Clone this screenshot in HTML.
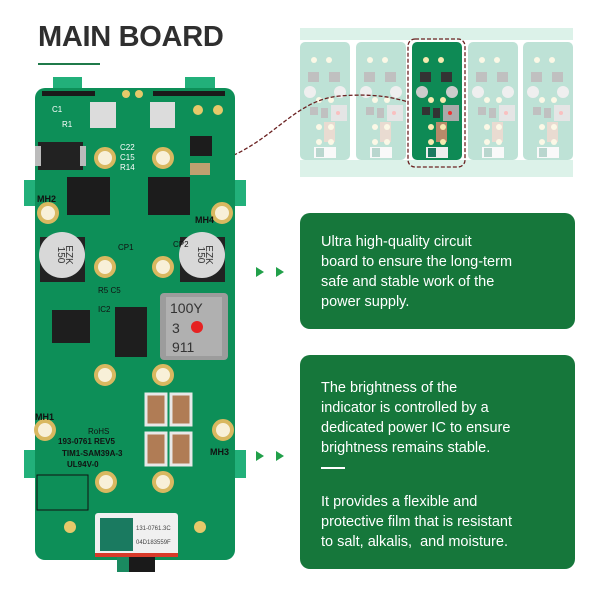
<!DOCTYPE html>
<html><head><meta charset="utf-8"><style>
html,body{margin:0;padding:0;background:#fff;width:600px;height:600px;overflow:hidden}
.t{position:absolute;left:38px;top:21px;font:bold 29px "Liberation Sans",sans-serif;color:#2f2f2f;letter-spacing:-0.3px}
.box{position:absolute;left:300px;width:275px;background:#16773b;border-radius:10px;color:#fff;font:14.5px/20px "Liberation Sans",sans-serif;box-sizing:border-box;padding-left:21px}
</style></head><body>
<svg width="600" height="600" style="position:absolute;left:0;top:0">
<defs>
<symbol id="mb" viewBox="0 0 50 118">
<rect x="0" y="0" width="50" height="118" rx="5" fill="currentColor"/>
<rect x="8" y="30" width="11" height="10" fill="#333"/><rect x="29" y="30" width="11" height="10" fill="#333"/>
<circle cx="10" cy="50" r="6" fill="#ccc"/><circle cx="40" cy="50" r="6" fill="#ccc"/>
<rect x="31" y="63" width="16" height="16" fill="#aaa"/><circle cx="38" cy="71" r="2" fill="#e33"/>
<rect x="10" y="65" width="8" height="8" fill="#333"/><rect x="21" y="66" width="7" height="10" fill="#333"/>
<rect x="24" y="80" width="11" height="20" fill="#b98a6a"/>
<rect x="14" y="105" width="22" height="11" fill="#eee"/><rect x="16" y="106" width="8" height="9" fill="#1a7a60"/>
<g fill="#f5e9b0"><circle cx="14" cy="18" r="3"/><circle cx="29" cy="18" r="3"/><circle cx="19" cy="58" r="3"/><circle cx="31" cy="58" r="3"/><circle cx="19" cy="85" r="3"/><circle cx="31" cy="85" r="3"/><circle cx="19" cy="100" r="3"/><circle cx="31" cy="100" r="3"/></g>
</symbol>
</defs>
<rect x="38" y="63" width="62" height="2" fill="#1f7a4a"/>
<g opacity="0.3">
<rect x="300" y="28" width="273" height="149" fill="#8fd6b8"/>
<rect x="300" y="40" width="273" height="120" fill="#fff"/>
<g color="#2aa07a">
<use href="#mb" x="300" y="42" width="50" height="118"/>
<use href="#mb" x="356" y="42" width="50" height="118"/>
<use href="#mb" x="468" y="42" width="50" height="118"/>
<use href="#mb" x="523" y="42" width="50" height="118"/>
</g></g>
<g color="#0e8a55"><use href="#mb" x="412" y="42" width="50" height="118"/></g>
<rect x="408" y="39" width="57" height="128" rx="7" fill="none" stroke="#6b2222" stroke-width="1.3" stroke-dasharray="4 2"/>
<path d="M205 165 C270 150,290 100,340 96 C375 93,395 98,408 102" fill="none" stroke="#6b2222" stroke-width="1.3" stroke-dasharray="4 2"/>
<g fill="#21a04a"><path d="M256 267 L264 272 L256 277Z"/><path d="M276 267 L284 272 L276 277Z"/>
<path d="M256 451 L264 456 L256 461Z"/><path d="M276 451 L284 456 L276 461Z"/></g>
<g fill="#22b07a"><rect x="53" y="77" width="29" height="13"/><rect x="185" y="77" width="30" height="13"/>
<rect x="24" y="180" width="12" height="26"/><rect x="234" y="180" width="12" height="26"/>
<rect x="24" y="450" width="12" height="28"/><rect x="234" y="450" width="12" height="28"/></g>
<rect x="35" y="88" width="200" height="472" rx="10" fill="#0d8f58"/>
<rect x="42" y="91" width="53" height="5" fill="#1a1a1a"/><rect x="153" y="91" width="72" height="5" fill="#1a1a1a"/>
<rect x="90" y="102" width="26" height="26" fill="#dcdcdc"/><rect x="150" y="102" width="25" height="26" fill="#dcdcdc"/>
<g fill="#e6c96a"><circle cx="126" cy="94" r="4"/><circle cx="139" cy="94" r="4"/><circle cx="198" cy="110" r="5"/><circle cx="218" cy="110" r="5"/></g>
<rect x="38" y="142" width="45" height="28" fill="#222"/><rect x="35" y="146" width="6" height="20" fill="#bbb"/><rect x="80" y="146" width="6" height="20" fill="#bbb"/>
<rect x="67" y="177" width="43" height="38" fill="#1c1c1c"/><rect x="148" y="177" width="42" height="38" fill="#1c1c1c"/>
<rect x="190" y="136" width="22" height="20" fill="#1c1c1c"/><rect x="190" y="163" width="20" height="12" fill="#bfa070"/>
<rect x="40" y="237" width="45" height="45" fill="#222"/><circle cx="62" cy="255" r="23" fill="#d8d8d8"/>
<rect x="180" y="237" width="45" height="45" fill="#222"/><circle cx="202" cy="255" r="23" fill="#d8d8d8"/>
<g font-family="Liberation Sans" font-size="10" fill="#333" text-anchor="middle">
<text transform="translate(58,255) rotate(90)">150</text><text transform="translate(66,255) rotate(90)">EZK</text>
<text transform="translate(198,255) rotate(90)">150</text><text transform="translate(206,255) rotate(90)">EZK</text></g>
<rect x="52" y="310" width="38" height="33" fill="#1e1e1e"/>
<rect x="115" y="307" width="32" height="50" fill="#1e1e1e"/>
<rect x="160" y="293" width="68" height="67" rx="4" fill="#9c9c9c"/>
<rect x="166" y="297" width="56" height="59" fill="#b0b0b0"/>
<g font-family="Liberation Sans" font-size="14" fill="#333"><text x="170" y="313">100Y</text><text x="172" y="333">3</text><text x="172" y="352">911</text></g>
<circle cx="197" cy="327" r="6" fill="#e62222"/>
<g fill="#b07c55" stroke="#e8e8e8" stroke-width="3"><rect x="146" y="394" width="20" height="31"/><rect x="171" y="394" width="20" height="31"/><rect x="146" y="433" width="20" height="32"/><rect x="171" y="433" width="20" height="32"/></g>
<g fill="#f8f0d8" stroke="#d9b860" stroke-width="4">
<circle cx="105" cy="158" r="9"/><circle cx="163" cy="158" r="9"/>
<circle cx="48" cy="213" r="9"/><circle cx="222" cy="213" r="9"/>
<circle cx="105" cy="267" r="9"/><circle cx="163" cy="267" r="9"/>
<circle cx="105" cy="375" r="9"/><circle cx="163" cy="375" r="9"/>
<circle cx="45" cy="430" r="9"/><circle cx="223" cy="430" r="9"/>
<circle cx="106" cy="482" r="9"/><circle cx="163" cy="482" r="9"/></g>
<g fill="#e6c96a"><circle cx="70" cy="527" r="6"/><circle cx="200" cy="527" r="6"/></g>
<rect x="37" y="475" width="51" height="35" fill="none" stroke="#111" stroke-width="1"/>
<rect x="95" y="513" width="83" height="44" rx="3" fill="#f0f0f0"/>
<rect x="100" y="518" width="33" height="33" fill="#1a7a60"/>
<rect x="95" y="553" width="83" height="4" fill="#d83a2a"/>
<rect x="117" y="557" width="38" height="15" fill="#1a1a1a"/><rect x="117" y="557" width="12" height="15" fill="#1a8a60"/>
<g font-family="Liberation Sans" font-size="6" fill="#444"><text x="136" y="530">131-0761.3C</text><text x="136" y="544">04D183559F</text></g>
<g font-family="Liberation Sans" font-size="8" fill="#fff">
<text x="52" y="112">C1</text><text x="62" y="127">R1</text><text x="120" y="150">C22</text><text x="120" y="160">C15</text><text x="120" y="170">R14</text>
<text x="37" y="202" font-weight="bold" font-size="9" fill="#111">MH2</text><text x="195" y="223" font-weight="bold" font-size="9" fill="#111">MH4</text>
<text x="35" y="420" font-weight="bold" font-size="9" fill="#111">MH1</text><text x="210" y="455" font-weight="bold" font-size="9" fill="#111">MH3</text>
<text x="118" y="250" fill="#111">CP1</text><text x="173" y="247" fill="#111">CP2</text><text x="98" y="293" fill="#111">R5 C5</text><text x="98" y="312" fill="#111">IC2</text>
<text x="88" y="434" fill="#111">RoHS</text></g>
<g font-family="Liberation Sans" font-size="8" font-weight="bold" fill="#111">
<text x="58" y="444">193-0761 REV5</text><text x="62" y="456">TIM1-SAM39A-3</text><text x="67" y="467">UL94V-0</text></g>
</svg>
<div class="t">MAIN BOARD</div>
<div class="box" style="top:213px;height:116px;padding-top:19px">Ultra high-quality circuit<br>board to ensure the long-term<br>safe and stable work of the<br>power supply.</div>
<div class="box" style="top:355px;height:214px;padding-top:23px">The brightness of the<br>indicator is controlled by a<br>dedicated power IC to ensure<br>brightness remains stable.
<div style="width:24px;height:2px;background:#fff;margin:9px 0 23px"></div>It provides a flexible and<br>protective film that is resistant<br>to salt, alkalis, &nbsp;and moisture.</div>
</body></html>
